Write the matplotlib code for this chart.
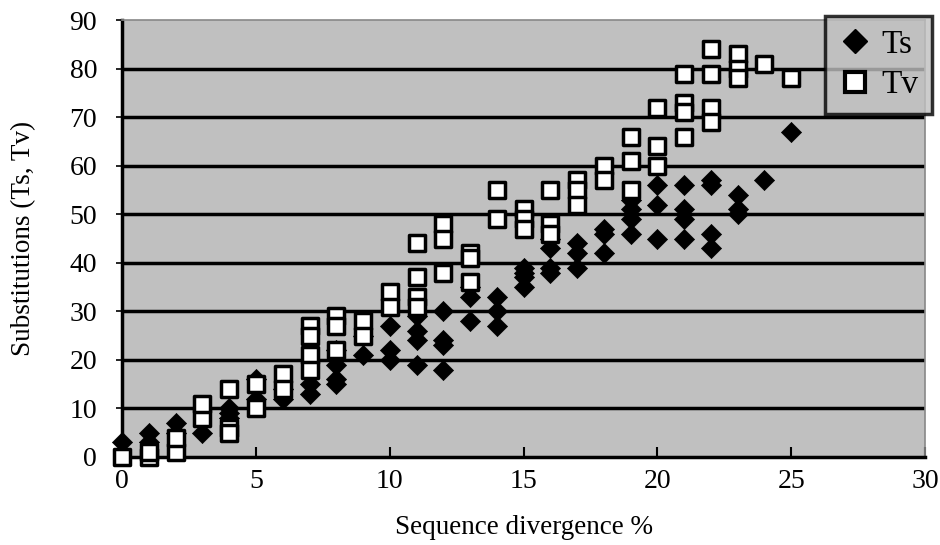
import matplotlib
matplotlib.use("Agg")
import matplotlib.pyplot as plt
from matplotlib.lines import Line2D

plt.rcParams['font.family'] = ['Liberation Serif', 'DejaVu Serif']

ts_x = [0, 1, 1, 2, 2, 3, 4, 4, 4, 5, 5, 6, 6, 7, 7, 7, 8, 8, 8, 8, 9, 9,
        10, 10, 10, 11, 11, 11, 11, 12, 12, 12, 12, 13, 13, 13, 14, 14, 14,
        15, 15, 15, 15, 16, 16, 16, 16, 17, 17, 17, 18, 18, 18,
        19, 19, 19, 19, 20, 20, 20, 21, 21, 21, 21, 22, 22, 22, 22,
        23, 23, 23, 24, 25]
ts_y = [3, 5, 3, 7, 5, 5, 8, 10, 9, 12, 16, 12, 14, 13, 15, 20, 15, 16, 19, 22, 21, 25,
        20, 22, 27, 19, 24, 26, 29, 18, 23, 24, 30, 28, 33, 35, 27, 30, 33,
        35, 37, 38, 39, 38, 39, 43, 45, 39, 42, 44, 42, 46, 47,
        46, 49, 51, 53, 45, 52, 56, 45, 49, 51, 56, 43, 46, 56, 57,
        50, 51, 54, 57, 67]

tv_x = [0, 1, 1, 2, 2, 3, 3, 4, 4, 4, 5, 5, 6, 6, 7, 7, 7, 7, 8, 8, 8, 9, 9,
        10, 10, 11, 11, 11, 11, 12, 12, 12, 13, 13, 13, 14, 14,
        15, 15, 15, 16, 16, 16, 17, 17, 17, 18, 18, 19, 19, 19,
        20, 20, 20, 21, 21, 21, 21, 22, 22, 22, 22, 23, 23, 23, 24, 25]
tv_y = [0, 0, 1, 1, 4, 8, 11, 14, 6, 5, 10, 15, 17, 14, 27, 25, 21, 18, 29, 27, 22, 28, 25,
        34, 31, 44, 37, 33, 31, 48, 45, 38, 42, 41, 36, 55, 49,
        51, 49, 47, 55, 48, 46, 57, 55, 52, 60, 57, 66, 61, 55,
        72, 64, 60, 79, 73, 71, 66, 84, 79, 72, 69, 83, 80, 78, 81, 78]

x_ticks = [0, 5, 10, 15, 20, 25, 30]
y_ticks = [0, 10, 20, 30, 40, 50, 60, 70, 80, 90]

fig = plt.figure(figsize=(9.4, 5.45), dpi=100)
ax = fig.add_axes([0.130, 0.1615, 0.854, 0.8015])
ax.set_facecolor('#c0c0c0')

for v in y_ticks[1:-1]:
    ax.axhline(v, color='black', lw=2.5, zorder=1)

ax.scatter(ts_x, ts_y, marker='D', s=105, facecolor='black', edgecolor='black',
           linewidths=0.5, zorder=3, clip_on=False)
ax.scatter(tv_x, tv_y, marker='s', s=140, facecolor='white', edgecolor='black',
           linewidths=2.5, zorder=4, clip_on=False)

ax.set_xlim(0, 30)
ax.set_ylim(0, 90)
ax.set_xticks(x_ticks)
ax.set_yticks(y_ticks)
ax.tick_params(axis='both', labelsize=20, colors='black')
ax.tick_params(axis='x', direction='in', length=7, width=1.5, pad=9)
ax.tick_params(axis='y', direction='out', length=4, width=1.2, pad=14)

for side in ['top', 'right']:
    ax.spines[side].set_color('#888888')
    ax.spines[side].set_linewidth(1.2)
for side in ['left', 'bottom']:
    ax.spines[side].set_color('black')
    ax.spines[side].set_linewidth(2.5)

ax.set_xlabel('Sequence divergence %', fontsize=19.5, labelpad=15)
ax.set_ylabel('Substitutions (Ts, Tv)', fontsize=19.5, labelpad=24)

handles = [Line2D([], [], marker='D', ls='none', color='black', markersize=12),
           Line2D([], [], marker='s', ls='none', markerfacecolor='white',
                  markeredgecolor='black', markeredgewidth=3, markersize=14)]
leg = fig.legend(handles, ['Ts', 'Tv'], loc='upper right',
                 bbox_to_anchor=(932 / 940, 1 - 16 / 545), fontsize=24,
                 frameon=True, fancybox=False, handletextpad=0.3,
                 borderpad=0.4, labelspacing=0.3, handlelength=1.0,
                 borderaxespad=0)
leg.get_frame().set_facecolor('#c0c0c0')
leg.get_frame().set_edgecolor('black')
leg.get_frame().set_linewidth(2.5)

fig.savefig('out.png', dpi=100)
